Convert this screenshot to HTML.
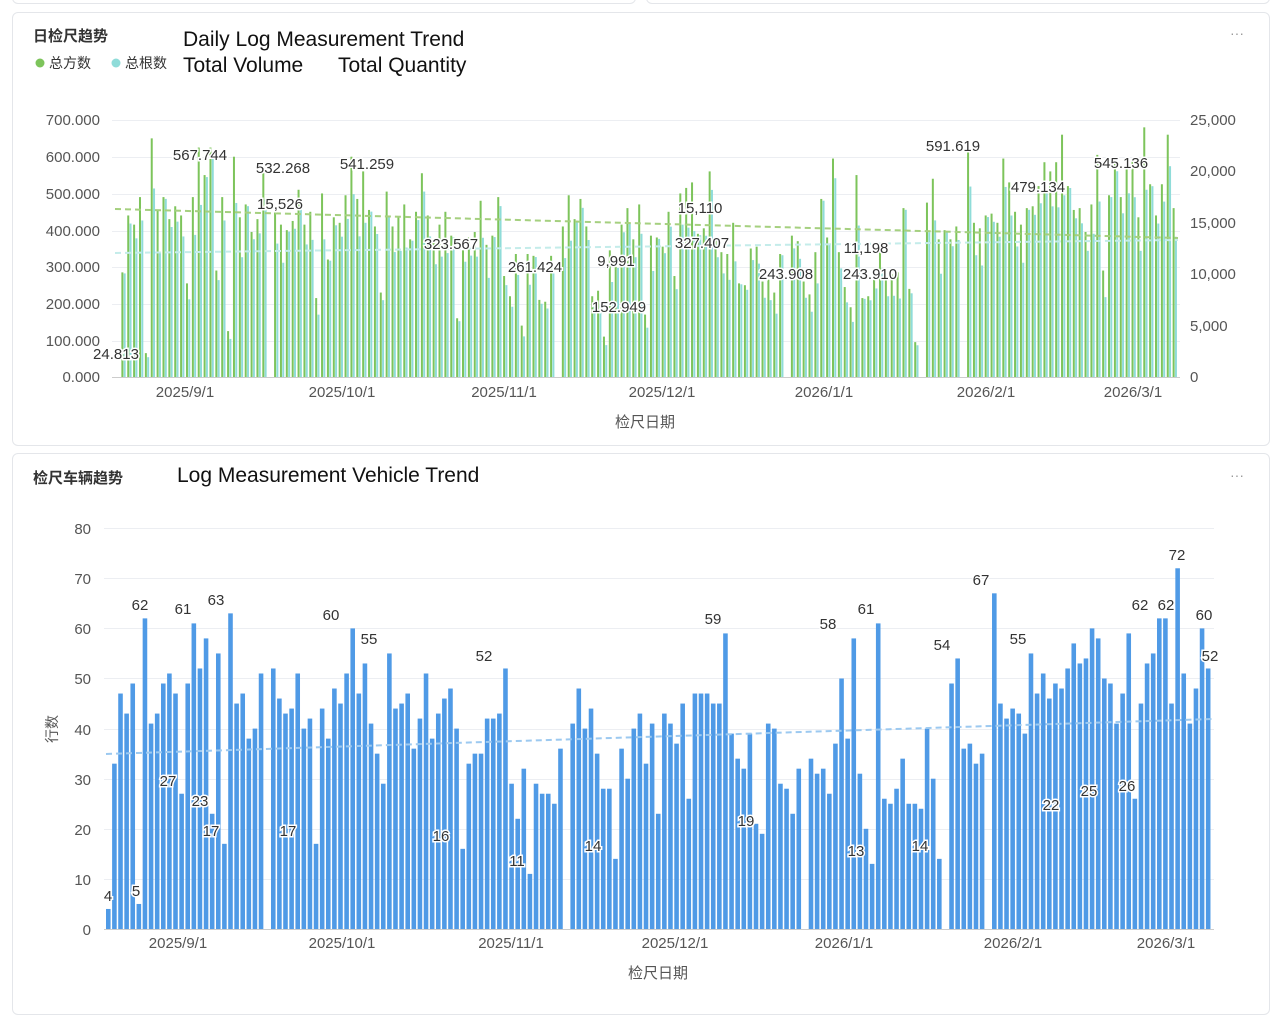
<!DOCTYPE html>
<html><head><meta charset="utf-8">
<style>
body{margin:0;background:#fff;width:1270px;height:997px;overflow:hidden;font-family:"Liberation Sans","Noto Sans CJK SC",sans-serif;}
.card{position:absolute;left:12px;width:1256px;border:1px solid #e4e6ea;border-radius:6px;background:#fff;}
svg text{font-family:"Liberation Sans","Noto Sans CJK SC",sans-serif;}
</style></head><body>
<div class="card" style="top:-10px;height:12px;width:622px"></div>
<div class="card" style="top:-10px;height:12px;left:646px;width:622px"></div>
<div class="card" style="top:12px;height:432px"></div>
<div class="card" style="top:453px;height:560px"></div>
<svg width="1270" height="997" style="position:absolute;left:0;top:0">
<text x="33" y="41" font-size="15" font-weight="bold" fill="#333">日检尺趋势</text>
<circle cx="40" cy="63" r="4.5" fill="#7dc45b"/><text x="49" y="68" font-size="14" fill="#333">总方数</text>
<circle cx="116" cy="63" r="4.5" fill="#8fdcd9"/><text x="125" y="68" font-size="14" fill="#333">总根数</text>
<text x="183" y="46" font-size="21" fill="#111">Daily Log Measurement Trend</text>
<text x="183" y="72" font-size="21" fill="#111">Total Volume</text>
<text x="338" y="72" font-size="21" fill="#111">Total Quantity</text>
<text x="1230" y="38" font-size="14" fill="#999">···</text>
<g stroke="#eceef2" stroke-width="1">
<line x1="112" x2="1180" y1="120.5" y2="120.5"/><line x1="112" x2="1180" y1="157.5" y2="157.5"/>
<line x1="112" x2="1180" y1="194.5" y2="194.5"/><line x1="112" x2="1180" y1="231.5" y2="231.5"/>
<line x1="112" x2="1180" y1="267.5" y2="267.5"/><line x1="112" x2="1180" y1="304.5" y2="304.5"/>
<line x1="112" x2="1180" y1="341.5" y2="341.5"/><line x1="112" x2="1180" y1="377.5" y2="377.5" stroke="#ccc"/>
</g>
<g font-size="15" fill="#555" text-anchor="end">
<text x="100" y="125">700.000</text><text x="100" y="162">600.000</text><text x="100" y="199">500.000</text>
<text x="100" y="236">400.000</text><text x="100" y="272">300.000</text><text x="100" y="309">200.000</text>
<text x="100" y="346">100.000</text><text x="100" y="382">0.000</text>
</g>
<g font-size="15" fill="#555" text-anchor="start">
<text x="1190" y="125">25,000</text><text x="1190" y="176">20,000</text><text x="1190" y="228">15,000</text>
<text x="1190" y="279">10,000</text><text x="1190" y="331">5,000</text><text x="1190" y="382">0</text>
</g>
<g font-size="15" fill="#555" text-anchor="middle">
<text x="185" y="397">2025/9/1</text><text x="342" y="397">2025/10/1</text><text x="504" y="397">2025/11/1</text>
<text x="662" y="397">2025/12/1</text><text x="824" y="397">2026/1/1</text><text x="986" y="397">2026/2/1</text>
<text x="1133" y="397">2026/3/1</text><text x="645" y="427">检尺日期</text>
</g>
<g id="topbars"></g>
<g font-size="15" fill="#333" stroke="#fff" stroke-width="3" paint-order="stroke" text-anchor="middle">
<text x="116" y="359">24.813</text><text x="200" y="160">567.744</text><text x="283" y="173">532.268</text>
<text x="280" y="209">15,526</text><text x="367" y="169">541.259</text><text x="451" y="249">323.567</text>
<text x="535" y="272">261.424</text><text x="616" y="266">9,991</text><text x="619" y="312">152.949</text>
<text x="700" y="213">15,110</text><text x="702" y="248">327.407</text><text x="786" y="279">243.908</text>
<text x="866" y="253">11,198</text><text x="870" y="279">243.910</text><text x="953" y="151">591.619</text>
<text x="1038" y="192">479.134</text><text x="1121" y="168">545.136</text>
</g>
<text x="33" y="483" font-size="15" font-weight="bold" fill="#333">检尺车辆趋势</text>
<text x="177" y="482" font-size="21" fill="#111">Log Measurement Vehicle Trend</text>
<text x="1230" y="480" font-size="14" fill="#999">···</text>
<g stroke="#eceef2">
<line x1="104" x2="1214" y1="528.5" y2="528.5"/><line x1="104" x2="1214" y1="578.5" y2="578.5"/>
<line x1="104" x2="1214" y1="628.5" y2="628.5"/><line x1="104" x2="1214" y1="678.5" y2="678.5"/>
<line x1="104" x2="1214" y1="729.5" y2="729.5"/><line x1="104" x2="1214" y1="779.5" y2="779.5"/>
<line x1="104" x2="1214" y1="829.5" y2="829.5"/><line x1="104" x2="1214" y1="879.5" y2="879.5"/>
<line x1="104" x2="1214" y1="929.5" y2="929.5" stroke="#ccc"/>
</g>
<g font-size="15" fill="#555" text-anchor="end">
<text x="91" y="534">80</text><text x="91" y="584">70</text><text x="91" y="634">60</text><text x="91" y="684">50</text>
<text x="91" y="735">40</text><text x="91" y="785">30</text><text x="91" y="835">20</text><text x="91" y="885">10</text><text x="91" y="935">0</text>
</g>
<text x="57" y="729" font-size="14" fill="#555" transform="rotate(-90 57 729)" text-anchor="middle">行数</text>
<g font-size="15" fill="#555" text-anchor="middle">
<text x="178" y="948">2025/9/1</text><text x="342" y="948">2025/10/1</text><text x="511" y="948">2025/11/1</text>
<text x="675" y="948">2025/12/1</text><text x="844" y="948">2026/1/1</text><text x="1013" y="948">2026/2/1</text>
<text x="1166" y="948">2026/3/1</text><text x="658" y="978">检尺日期</text>
</g>
<g id="botbars"></g>
<line x1="106" y1="754" x2="1212" y2="719" stroke="#9cc9f0" stroke-width="2" stroke-dasharray="6,4"/>
<g font-size="15" fill="#333" stroke="#fff" stroke-width="3" paint-order="stroke" text-anchor="middle">
<text x="140" y="610">62</text><text x="183" y="614">61</text><text x="216" y="605">63</text><text x="331" y="620">60</text>
<text x="369" y="644">55</text><text x="484" y="661">52</text><text x="713" y="624">59</text><text x="828" y="629">58</text>
<text x="866" y="614">61</text><text x="942" y="650">54</text><text x="981" y="585">67</text><text x="1018" y="644">55</text>
<text x="1140" y="610">62</text><text x="1166" y="610">62</text><text x="1177" y="560">72</text><text x="1204" y="620">60</text>
<text x="1210" y="661">52</text><text x="168" y="786">27</text><text x="200" y="806">23</text><text x="211" y="836">17</text>
<text x="288" y="836">17</text><text x="441" y="841">16</text><text x="517" y="866">11</text><text x="593" y="851">14</text>
<text x="746" y="826">19</text><text x="856" y="856">13</text><text x="920" y="851">14</text><text x="1051" y="810">22</text>
<text x="1089" y="796">25</text><text x="1127" y="791">26</text><text x="136" y="896">5</text><text x="108" y="901">4</text>
</g>
</svg>
<script>
var b=[4,33,47,43,49,5,62,41,43,49,51,47,27,49,61,52,58,23,55,17,63,45,47,38,40,51,0,52,46,43,44,51,40,42,17,44,38,48,45,51,60,47,53,41,35,29,55,44,45,47,36,42,51,38,43,46,48,40,16,33,35,35,42,42,43,52,29,22,32,11,29,27,27,25,36,0,41,48,40,44,35,28,28,14,36,30,40,43,33,41,23,43,41,37,45,26,47,47,47,45,45,59,39,34,32,39,21,19,41,40,29,28,23,32,0,34,31,32,27,37,50,38,58,31,20,13,61,26,25,28,34,25,25,24,40,30,14,0,49,54,36,37,33,35,0,67,45,42,44,43,39,55,47,51,46,49,48,52,57,53,54,60,58,50,49,41,47,59,26,45,53,55,62,62,45,72,51,41,48,60,52];
var N=b.length;
var ns="http://www.w3.org/2000/svg";
function R(g,x,y,w,h,c){var r=document.createElementNS(ns,"rect");r.setAttribute("x",x);r.setAttribute("y",y);r.setAttribute("width",w);r.setAttribute("height",Math.max(h,0));r.setAttribute("fill",c);g.appendChild(r);}
var bg=document.getElementById("botbars"),step=(1212-106)/N;
for(var i=0;i<N;i++){var h=b[i]*5.01;R(bg,106+i*step,929-h,step*0.75,h,"#4f9ae6");}
var tg=document.getElementById("topbars"),s2=(1178-115)/N;
for(var i=0;i<N;i++){var v=b[i]*10000+((i*37)%9-4)*15000;if(b[i]==0)v=0;v=Math.min(v,680000);var hg=v/700000*257;
var q=v/700000*25000*(0.75+((i*13)%7)/25);var hc=q/25000*257;
R(tg,115+i*s2+0.5,377-hg,2,hg,"#7dc45b");R(tg,115+i*s2+2.8,377-hc,2,hc,"#8fdcd9");}
var l=document.createElementNS(ns,"line");l.setAttribute("x1",115);l.setAttribute("y1",209);l.setAttribute("x2",1178);l.setAttribute("y2",238);l.setAttribute("stroke","#a5d07f");l.setAttribute("stroke-width",2);l.setAttribute("stroke-dasharray","6,4");tg.appendChild(l);
var l2=l.cloneNode();l2.setAttribute("y1",253);l2.setAttribute("y2",240);l2.setAttribute("stroke","#c4ecea");tg.appendChild(l2);
</script>
</body></html>
